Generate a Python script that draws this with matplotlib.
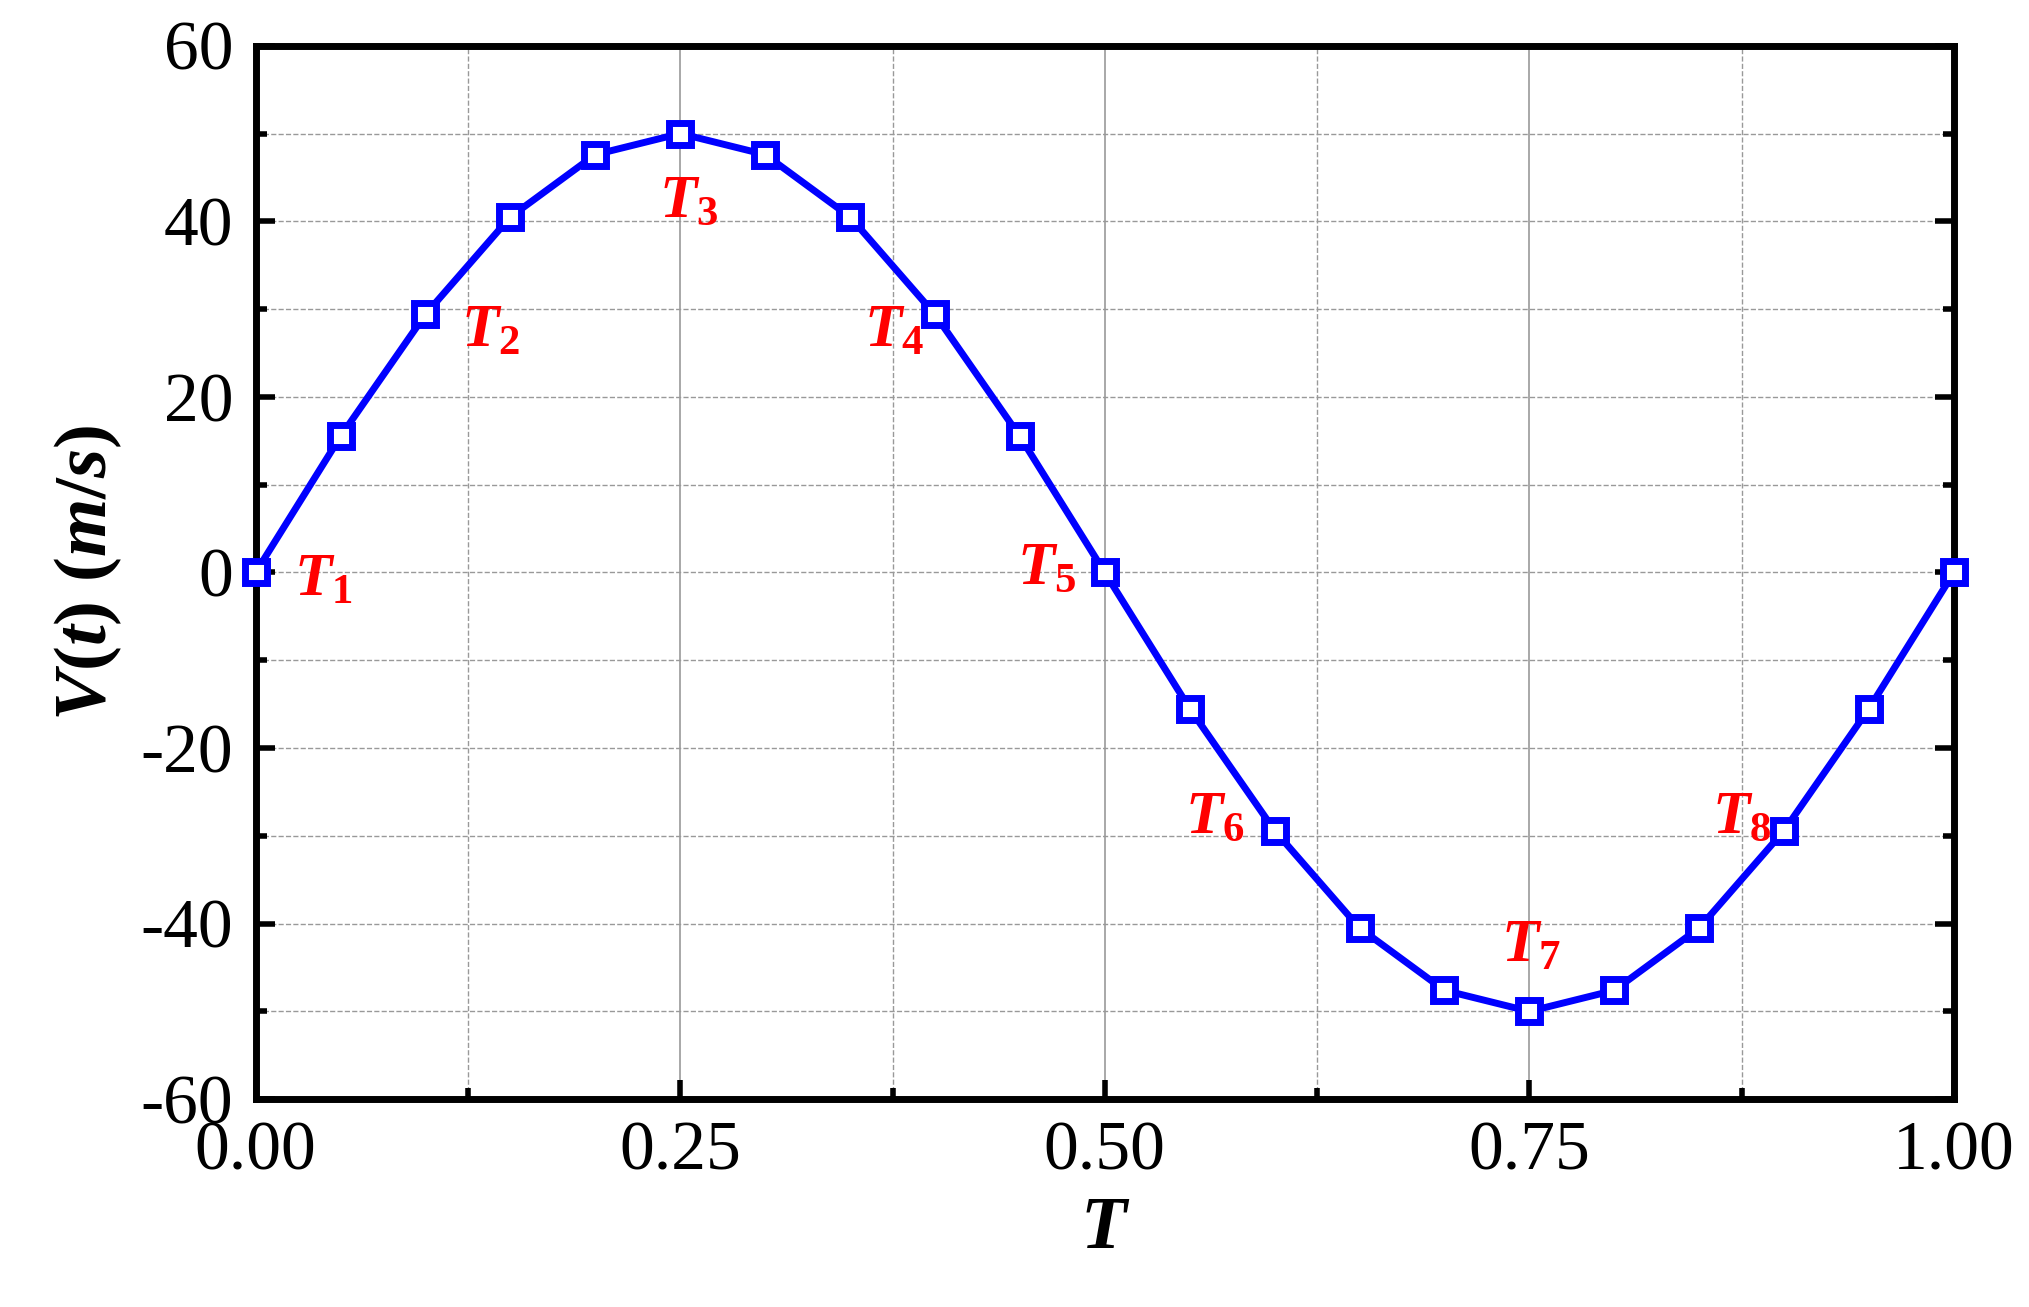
import matplotlib
matplotlib.use("Agg")
import matplotlib.pyplot as plt
from matplotlib.ticker import MultipleLocator

T = [0.0,0.05,0.10,0.15,0.20,0.25,0.30,0.35,0.40,0.45,0.50,0.55,0.60,0.65,0.70,0.75,0.80,0.85,0.90,0.95,1.0]
V = [0,15.5,29.4,40.5,47.6,50,47.6,40.5,29.4,15.5,0,-15.5,-29.4,-40.5,-47.6,-50,-47.6,-40.5,-29.4,-15.5,0]
labels = ['$\\mathbf{\\mathit{T}_1}$','$T_2$','$T_3$','$T_4$','$T_5$','$T_6$','$T_7$','$T_8$']
labels = ['$T_{%d}$' % i for i in range(1, 9)]
lab_x = [0.04,0.138,0.255,0.376,0.466,0.565,0.751,0.875]
lab_y = [-1,27.4,42.2,27.4,0.4,-28,-42.7,-27.9]

plt.rcParams['font.family'] = ['Liberation Serif']
plt.rcParams['mathtext.fontset'] = 'custom'
plt.rcParams['mathtext.it'] = 'Liberation Serif:italic:bold'
plt.rcParams['mathtext.rm'] = 'Liberation Serif:bold'
plt.rcParams['axes.unicode_minus'] = False
fig = plt.figure(figsize=(20.29,13.07), dpi=100)
ax = fig.add_axes([0.126,0.159,0.837,0.806])
ax.plot(T, V, color='#0000ff', lw=5, marker='s', ms=16, mfc='white', mec='#0000ff', mew=5, clip_on=False, zorder=5)
for s,x,y in zip(labels, lab_x, lab_y):
    ax.text(x, y, s, color='red', fontsize=44, ha='center', va='center', zorder=6)
ax.set_xlim(0,1); ax.set_ylim(-60,60)
ax.yaxis.set_major_locator(MultipleLocator(20)); ax.yaxis.set_minor_locator(MultipleLocator(10))
ax.xaxis.set_minor_locator(MultipleLocator(0.125))
ax.set_xticks([0,0.25,0.5,0.75,1.0]); ax.set_xticklabels(['0.00','0.25','0.50','0.75','1.00'])
ax.grid(True, which='major', axis='x', color='#999999', lw=1.2, ls='-')
ax.grid(True, which='minor', axis='x', color='#999999', lw=1, ls='--')
ax.grid(True, which='both', axis='y', color='#999999', lw=1, ls='--')
for sp in ax.spines.values(): sp.set_linewidth(5)
ax.tick_params(which='both', direction='in', width=4, left=True, right=True, bottom=True, top=False, labelsize=50, pad=16)
ax.tick_params(which='major', length=14)
ax.tick_params(which='minor', length=8)
ax.set_xlabel('$T$', fontsize=54, labelpad=8)
ax.set_ylabel('$V(t)$ $(m/s)$', fontsize=54, labelpad=12)
fig.savefig('out.png', dpi=100)
